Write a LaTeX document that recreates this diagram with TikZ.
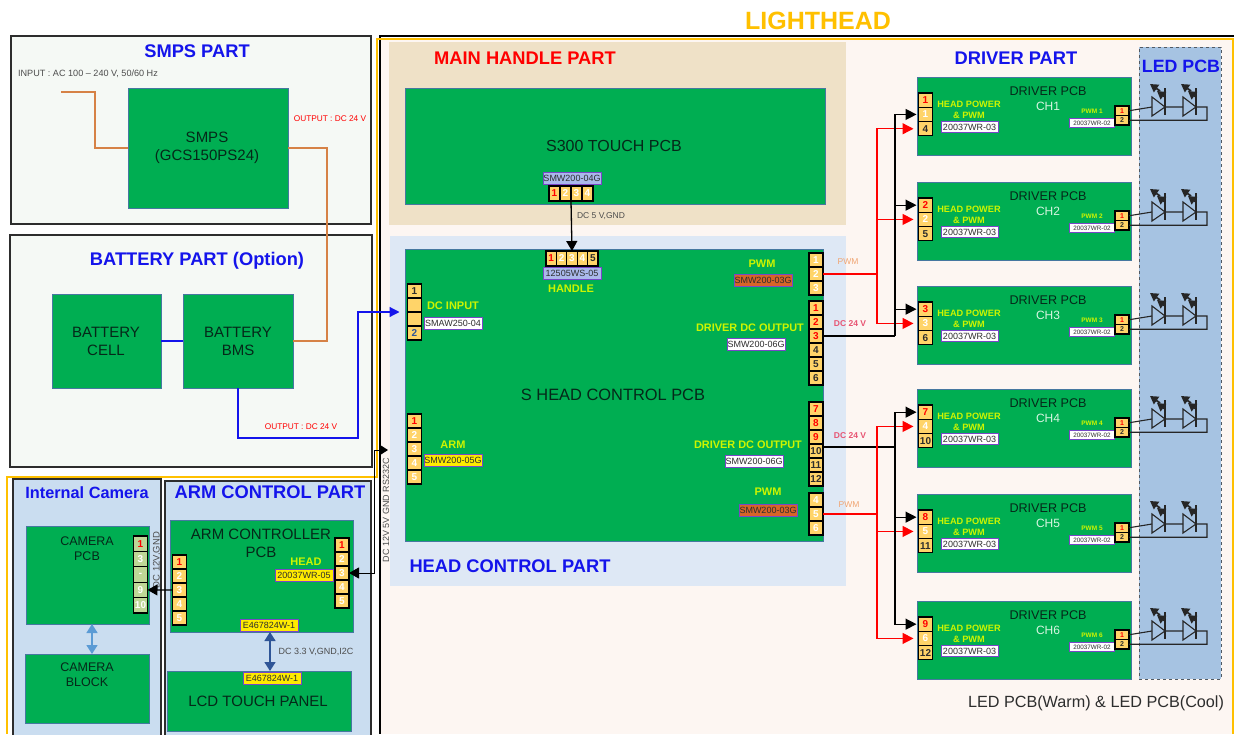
\documentclass[tikz,border=0pt]{standalone}
\usepackage{fontspec}
\setmainfont{Liberation Sans}
\usetikzlibrary{arrows.meta,fit}
\definecolor{ink}{RGB}{45,45,45}
\definecolor{pcbgreen}{RGB}{0,174,82}
\definecolor{pcbedge}{RGB}{70,120,160}
\definecolor{pcbtext}{RGB}{5,40,25}
\definecolor{chtext}{RGB}{215,245,225}
\definecolor{lightorange}{RGB}{255,192,0}
\definecolor{wireorange}{RGB}{214,130,70}
\definecolor{partblue}{RGB}{20,20,235}
\definecolor{signyellow}{RGB}{205,245,0}
\definecolor{pinfill}{RGB}{255,212,105}
\definecolor{campin}{RGB}{190,215,150}
\definecolor{tagedge}{RGB}{120,70,200}
\definecolor{tagperi}{RGB}{170,185,235}
\definecolor{tagorange}{RGB}{215,100,40}
\definecolor{tagyellow}{RGB}{255,235,0}
\definecolor{softgreen}{RGB}{245,249,245}
\definecolor{softpink}{RGB}{253,246,242}
\definecolor{softtan}{RGB}{239,225,199}
\definecolor{softblue}{RGB}{222,232,245}
\definecolor{armblue}{RGB}{202,221,240}
\definecolor{ledblue}{RGB}{166,195,226}
\definecolor{camarrow}{RGB}{91,155,213}
\definecolor{armarrow}{RGB}{47,85,151}
\definecolor{dcpink}{RGB}{232,85,115}
\definecolor{pwmtan}{RGB}{240,165,115}
\newcommand{\pinR}[1]{\textcolor{red}{#1}}
\newcommand{\pinW}[1]{\textcolor{white}{#1}}
\newcommand{\pinK}[1]{\textcolor{ink}{#1}}
\newcommand{\pinB}[1]{\textcolor{armarrow}{#1}}
% name, x, top y, cell height, cell options, labels
\newcommand{\pinsV}[6]{\foreach \t [count=\i] in {#6}
  {\node[pincell,minimum height=#4pt,#5] (#1-\i) at (#2,{#3+(\i-.5)*#4}) {\t};}}
% name, left x, y, cell width, cell options, labels
\newcommand{\pinsH}[6]{\foreach \t [count=\i] in {#6}
  {\node[pincell,minimum width=#4pt,#5] (#1-\i) at ({#2+(\i-.5)*#4},#3) {\t};}}
\tikzset{
  panel/.style={draw=ink,line width=1.2pt,inner sep=0pt,outer sep=0pt},
  zone/.style={inner sep=0pt,outer sep=0pt},
  pcb/.style={draw=pcbedge,line width=.7pt,fill=pcbgreen,inner sep=0pt,outer sep=0pt},
  pcbname/.style 2 args={inner sep=0pt,align=center,text=pcbtext,font=\fontsize{#1}{#2}\selectfont},
  part/.style={inner sep=0pt,text=partblue,font=\fontsize{18.3}{20}\selectfont\bfseries},
  pincell/.style={draw=black,line width=1.1pt,fill=pinfill,minimum width=14pt,minimum height=14pt,
    inner sep=0pt,outer sep=0pt,font=\fontsize{10}{10}\selectfont\bfseries},
  sign/.style={inner sep=0pt,align=center,text=signyellow,font=\fontsize{11}{13}\selectfont\bfseries},
  tagbox/.style={draw=tagedge,line width=1pt,fill=white,inner sep=0pt,outer sep=0pt,
    minimum width=58pt,minimum height=12pt,text=ink,font=\fontsize{9}{9}\selectfont},
  note/.style={inner sep=0pt,text=ink!85,font=\fontsize{8.5}{10}\selectfont},
  wirek/.style={draw=black,line width=1.3pt},
  wirer/.style={draw=red,line width=1.3pt},
  arrk/.style={wirek,-{Triangle[length=11pt,width=11pt]},shorten >=2pt},
  arrr/.style={wirer,-{Triangle[length=11pt,width=11pt]},shorten >=5pt},
  pwrline/.style={draw=wireorange,line width=1.4pt},
  batline/.style={draw=partblue,line width=1.2pt},
  led/.style={draw=black!85,line width=1.1pt},
}
\begin{document}
\begin{tikzpicture}[x=1pt,y=-1pt]
\useasboundingbox (0,0) rectangle (1239,734);
\node[zone,fill=softpink,fit={(380,38) (1233,734)}] (lighthead) {};
\draw[black,line width=1.6pt] (1234,36) -- (380,36) -- (380,734);
\draw[lightorange,line width=2.6pt] (1233,734) -- (1233,39) -- (377,39) -- (377,477) -- (7,477) -- (7,734);
\node[font=\fontsize{25}{27}\selectfont\bfseries,text=lightorange,inner sep=0pt] (lighttitle) at (818,21) {LIGHTHEAD};

% left side parts
\node[panel,fill=softgreen,fit={(11,36) (371,224)}] (smpspart) {};
\node[panel,fill=softgreen,fit={(10,235) (372,467)}] (batpart) {};
\node[panel,fill=armblue,fit={(13,479) (161,740)}] (campart) {};
\node[panel,fill=armblue,fit={(165,481) (371,740)}] (armpart) {};
\node[part] (smpstitle) at (197,51) {SMPS PART};
\node[part] (battitle) at (197,261) {BATTERY PART (Option)};
\node[part,font=\fontsize{16.3}{18}\selectfont\bfseries] (camtitle) at (87,493) {Internal Camera};
\node[part] (armtitle) at (270,492) {ARM CONTROL PART};
\node[note,font=\fontsize{9.1}{10}\selectfont] (acnote) at (88,74) {INPUT : AC 100 – 240 V, 50/60 Hz};
\node[note,text=red,font=\fontsize{8.3}{10}\selectfont] (smpsnote) at (330,119) {OUTPUT : DC 24 V};
\node[note,text=red,font=\fontsize{8.3}{10}\selectfont] (batnote) at (301,427) {OUTPUT : DC 24 V};

\node[pcb,fit={(128,88) (288,208)}] (smps) {};
\node[pcb,fit={(52,294) (161,388)}] (cell) {};
\node[pcb,fit={(183,294) (293,388)}] (bms) {};
\node[pcb,fit={(26,526) (149,624)}] (campcb) {};
\node[pcb,fit={(25,654) (149,723)}] (camblock) {};
\node[pcb,fit={(170,520) (353,632)}] (armpcb) {};
\node[pcb,fit={(167,671) (351,731)}] (lcd) {};
\node[pcbname={15}{18}] (smpsname) at (207,148) {SMPS\\(GCS150PS24)};
\node[pcbname={15}{18}] (cellname) at (106,341) {BATTERY\\CELL};
\node[pcbname={15}{18}] (bmsname) at (238,341) {BATTERY\\BMS};
\node[pcbname={15}{18}] (lcdname) at (258,701) {LCD TOUCH PANEL};
\node[pcbname={12.5}{15}] (camname) at (87,549) {CAMERA\\PCB};
\node[pcbname={12.5}{15}] (blockname) at (87,675) {CAMERA\\BLOCK};
\node[pcbname={15}{18}] (armname) at (261,543) {ARM CONTROLLER\\PCB};
\node[sign] (headsign) at (306,562) {HEAD};
\node[tagbox,fill=tagyellow] (headtag) at (304,575.5) {20037WR-05};
\node[tagbox,fill=tagyellow] (armtag) at (269,625) {E467824W-1};
\node[tagbox,fill=tagyellow] (lcdtag) at (272,678) {E467824W-1};
\pinsV{campin}{140.5}{536}{15.4}{fill=campin}{\pinR{1},\pinW{3},\pinW{-},\pinW{9},\pinW{10}}
\pinsV{armL}{179.5}{555}{14}{}{\pinR{1},\pinW{2},\pinW{3},\pinW{4},\pinW{5}}
\pinsV{armR}{342}{538}{14}{}{\pinR{1},\pinW{2},\pinW{3},\pinW{4},\pinW{5}}
\node[note,rotate=90,font=\fontsize{9.5}{10}\selectfont] (camnote) at (157,560) {DC 12V,GND};
\node[note,font=\fontsize{9}{10}\selectfont] (lcdnote) at (316,652) {DC 3.3 V,GND,I2C};

% head parts
\node[zone,fill=softtan,fit={(389,42) (846,225)}] (handlepart) {};
\node[zone,fill=softblue,fit={(390,236) (846,586)}] (headpart) {};
\node[part,text=red] (handletitle) at (525,58) {MAIN HANDLE PART};
\node[part] (headtitle) at (510,566) {HEAD CONTROL PART};
\node[pcb,fit={(405,88) (825,204)}] (s300) {};
\node[pcb,fit={(405,249) (823,541)}] (head) {};
\node[pcbname={16}{18}] (s300name) at (614,146) {S300 TOUCH PCB};
\node[pcbname={16.4}{18}] (headname) at (613,395) {S HEAD CONTROL PCB};
\node[tagbox,fill=tagperi] (s300tag) at (572,178) {SMW200-04G};
\pinsH{s300pin}{549}{193.5}{11}{minimum height=15pt}{\pinR{1},\pinW{2},\pinW{3},\pinW{4}}
\pinsH{hdl}{546}{258.5}{10.4}{minimum height=15pt}{\pinR{1},\pinW{2},\pinW{3},\pinW{4},\pinK{5}}
\node[tagbox,fill=tagperi] (hdltag) at (572,273) {12505WS-05};
\node[sign] (hdlsign) at (571,289) {HANDLE};
\node[note] (hdlnote) at (601,216) {DC 5 V,GND};
\pinsV{dcin}{414.5}{284}{14}{}{\pinK{1},{},{},\pinB{2}}
\node[sign] (dcsign) at (453,306) {DC INPUT};
\node[tagbox] (dctag) at (453,323) {SMAW250-04};
\pinsV{armin}{414.5}{414}{14}{}{\pinR{1},\pinW{2},\pinW{3},\pinW{4},\pinW{5}}
\node[sign] (armsign) at (453,445) {ARM};
\node[tagbox,fill=tagyellow] (armintag) at (453,460) {SMW200-05G};
\pinsV{pwmA}{816}{253}{14}{}{\pinW{1},\pinW{2},\pinW{3}}
\pinsV{dcA}{816}{301}{14}{}{\pinR{1},\pinR{2},\pinR{3},\pinK{4},\pinK{5},\pinK{6}}
\pinsV{dcB}{816}{402}{14}{}{\pinR{7},\pinR{8},\pinR{9},\pinK{10},\pinK{11},\pinK{12}}
\pinsV{pwmB}{816}{493}{14}{}{\pinW{4},\pinW{5},\pinW{6}}
\node[sign] (pwmAsign) at (762,264) {PWM};
\node[tagbox,fill=tagorange] (pwmAtag) at (763,280) {SMW200-03G};
\node[sign,font=\fontsize{10.9}{12}\selectfont\bfseries] (dcAsign) at (750,328) {DRIVER DC OUTPUT};
\node[tagbox] (dcAtag) at (756,344) {SMW200-06G};
\node[sign,font=\fontsize{10.9}{12}\selectfont\bfseries] (dcBsign) at (748,445) {DRIVER DC OUTPUT};
\node[tagbox] (dcBtag) at (754,461) {SMW200-06G};
\node[sign] (pwmBsign) at (768,492) {PWM};
\node[tagbox,fill=tagorange] (pwmBtag) at (768,510) {SMW200-03G};
\node[note,rotate=90,font=\fontsize{9}{10}\selectfont] (rsnote) at (386,510) {DC 12V 5V GND RS232C};
\node[note,text=pwmtan] (pwmAnote) at (848,262) {PWM};
\node[note,text=dcpink,font=\fontsize{8.5}{10}\selectfont\bfseries] (dcAnote) at (850,324) {DC 24 V};
\node[note,text=dcpink,font=\fontsize{8.5}{10}\selectfont\bfseries] (dcBnote) at (850,436) {DC 24 V};
\node[note,text=pwmtan] (pwmBnote) at (849,505) {PWM};

% driver part
\node[zone,draw=ink!70!ledblue,dashed,line width=1pt,fill=ledblue,fit={(1139,47) (1221,679)}] (ledpart) {};
\node[part] (drvtitle) at (1016,58) {DRIVER PART};
\node[part,font=\fontsize{17.8}{20}\selectfont\bfseries] (ledtitle) at (1181,66) {LED PCB};
\node[inner sep=0pt,text=ink,font=\fontsize{16.2}{18}\selectfont] (ledtypes) at (1096,703) {LED PCB(Warm) \& LED PCB(Cool)};
\foreach \nm/\yt/\ch/\pa/\pb/\pc in {A/77/1/1/1/4,B/182/2/2/2/5,C/286/3/3/3/6,D/389/4/7/4/10,E/494/5/8/5/11,F/601/6/9/6/12} {
  \node[pcb,fit={(917,\yt) (1131,\yt+78)}] (drv\nm) {};
  \node[pcbname={12.6}{15}] (drvname\nm) at (1048,\yt+14) {DRIVER PCB};
  \node[pcbname={12}{15},text=chtext] (chname\nm) at (1048,\yt+29) {CH\ch};
  \node[sign,font=\fontsize{9.2}{11}\selectfont\bfseries] (drvsign\nm) at (969,\yt+32.5) {HEAD POWER\\\& PWM};
  \node[tagbox,minimum width=57pt,minimum height=11pt] (drvtag\nm) at (969.5,\yt+50) {20037WR-03};
  \node[sign,font=\fontsize{6.5}{7}\selectfont\bfseries] (pwmsign\nm) at (1092,\yt+34) {PWM \ch};
  \node[tagbox,minimum width=45pt,minimum height=9pt,font=\fontsize{6.3}{7}\selectfont] (pwmtag\nm) at (1092,\yt+46) {20037WR-02};
  \pinsV{pL\nm}{925.5}{\yt+16}{14.3}{}{\pinR{\pa},\pinW{\pb},\pinK{\pc}}
  \pinsV{pR\nm}{1122}{\yt+29}{9.5}{font=\fontsize{7}{7}\selectfont\bfseries}{\pinR{1},\pinK{2}}
  \draw[led] (pR\nm-1.east) -- (1152,\yt+30) (1165,\yt+30) -- (1183,\yt+30) (1196,\yt+30) -- (1207,\yt+30) |- (pR\nm-2.east);
  \foreach \lx in {1152,1183} {
    \draw[led] (\lx,\yt+20) -- (\lx,\yt+39) -- (\lx+13,\yt+30) -- cycle;
    \draw[led,line width=1.8pt] (\lx+13,\yt+11) -- (\lx+13,\yt+38);
    \draw[led,line width=1.8pt,-{Triangle[length=8pt,width=9pt]}] (\lx+8,\yt+14) -- (\lx-2,\yt+7);
    \draw[led,line width=1.8pt,-{Triangle[length=8pt,width=9pt]}] (\lx+13,\yt+20) -- (\lx+5,\yt+14);
  }
}

% connectors
\coordinate (acin) at (61,92);
\coordinate (acbend) at (95,92);
\coordinate (smpsout) at (327,148);
\coordinate (batbend) at (358,438);
\coordinate (batup) at (358,312);
\draw[pwrline] (acin) -- (acbend) |- (smps.west);
\draw[pwrline] (bms.east) -| (smpsout) -- (smps.east);
\draw[batline] (cell.east) -- (bms.west);
\draw[batline,-{Triangle[length=10pt,width=10pt]},shorten >=8pt] (bms.south) |- (batbend) -- (batup) -- (dcin-2.south west);
\coordinate (rsbend) at (374.5,450);
\coordinate (rsin) at (388,450);
\draw[line width=1pt,{Triangle[length=10pt,width=11pt]}-{Triangle[length=8pt,width=10pt]}] (armR-3.east) -| (rsbend) -- (rsin);
\draw[wirek,-{Triangle[length=10pt,width=11pt]}] (armL-3.west) -- (campin-4.east);
\draw[draw=camarrow,line width=1.6pt,{Triangle[length=9pt,width=11pt]}-{Triangle[length=9pt,width=11pt]}] ([xshift=4.5pt]campcb.south) -- ([xshift=5pt]camblock.north);
\draw[draw=armarrow,line width=1.6pt,{Triangle[length=9pt,width=11pt]}-{Triangle[length=9pt,width=11pt]}] ([xshift=8.5pt]armpcb.south) -- ([xshift=11pt]lcd.north);
\draw[wirek,-{Triangle[length=10pt,width=11pt]}] (s300pin-2.south east) -- (hdl-3.north);

\coordinate (redA) at (877,274);
\coordinate (redB) at (877,514);
\coordinate (blackA) at (895,336);
\coordinate (blackB) at (895,447);
\draw[wirer] (pwmA-2.east) -- (redA);
\draw[wirer] (pwmB-2.east) -- (redB);
\draw[wirek] (dcA-3.east) -- (blackA);
\draw[wirek] ([yshift=4pt]dcB-4.east) -- (blackB);
\draw[arrr] (redA) |- (pLA-3.west);
\draw[arrr] (redA) |- (pLB-2.west);
\draw[arrr] (redA) |- (pLC-2.west);
\draw[arrr] (redB) |- (pLD-2.west);
\draw[arrr] (redB) |- (pLE-2.west);
\draw[arrr] (redB) |- (pLF-2.west);
\draw[arrk] (blackA) |- (pLA-2.west);
\draw[arrk] (blackA) |- (pLB-1.west);
\draw[arrk] (blackA) |- (pLC-1.west);
\draw[arrk] (blackB) |- (pLD-1.west);
\draw[arrk] (blackB) |- (pLE-1.west);
\draw[arrk] (blackB) |- (pLF-1.west);
\end{tikzpicture}
\end{document}
